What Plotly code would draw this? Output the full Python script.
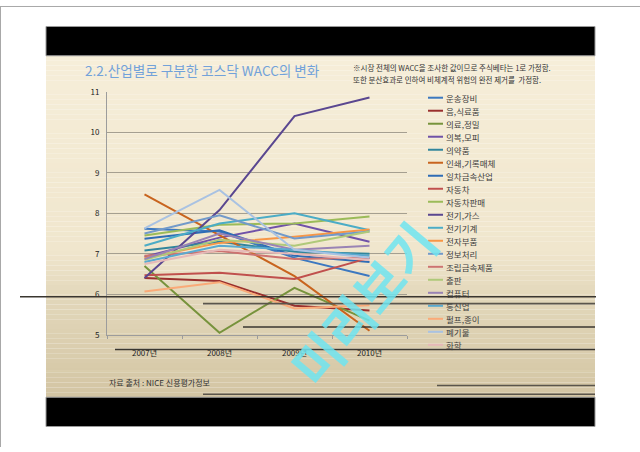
import plotly.graph_objects as go

W, H = 640, 452
years = ["2007년", "2008년", "2009년", "2010년"]
y_ticks = [5, 6, 7, 8, 9, 10, 11]

names = ["운송장비", "음,식료품", "의료,정밀", "의복,모피", "의약품", "인쇄,기록매체",
         "일차금속산업", "자동차", "자동차판매", "전기,가스", "전기기계", "전자부품",
         "정보처리", "조립금속제품", "출판", "컴퓨터", "통신업", "펄프,종이", "폐기물", "화학"]

v_운송장비 = [7.62, 7.55, 6.90, 6.45]
v_음식료품 = [6.40, 6.33, 5.72, 5.60]
v_의료정밀 = [6.70, 5.05, 6.16, 5.35]
v_의복모피 = [6.93, 7.40, 7.75, 7.30]
v_의약품 = [7.08, 7.30, 7.05, 7.00]
v_인쇄 = [8.47, 7.45, 6.45, 5.10]
v_일차금속 = [7.37, 7.58, 6.95, 6.80]
v_자동차 = [6.47, 6.53, 6.38, 6.90]
v_자동차판매 = [7.45, 7.72, 7.75, 7.92]
v_전기가스 = [6.40, 8.08, 10.40, 10.86]
v_전기기계 = [7.20, 7.75, 8.00, 7.58]
v_전자부품 = [6.90, 7.27, 7.42, 7.60]
v_정보처리 = [7.50, 7.95, 7.38, 7.55]
v_조립금속 = [6.95, 7.07, 6.87, 6.90]
v_출판 = [6.85, 7.35, 7.20, 7.55]
v_컴퓨터 = [6.87, 7.50, 7.10, 7.20]
v_통신업 = [6.80, 7.20, 7.10, 6.95]
v_펄프종이 = [6.07, 6.30, 5.65, 5.73]
v_폐기물 = [7.63, 8.58, 7.10, 6.90]
v_화학 = [6.75, 7.10, 7.00, 6.85]

values = [v_운송장비, v_음식료품, v_의료정밀, v_의복모피, v_의약품, v_인쇄, v_일차금속,
          v_자동차, v_자동차판매, v_전기가스, v_전기기계, v_전자부품, v_정보처리, v_조립금속,
          v_출판, v_컴퓨터, v_통신업, v_펄프종이, v_폐기물, v_화학]

colors = ["#3C78C0", "#9A302E", "#77933C", "#7052A8", "#31859C", "#C8641E",
          "#2E6CB5", "#C0504D", "#9BBB59", "#5A4790", "#4BACC6", "#F79646",
          "#729ACA", "#CD7371", "#AFC97A", "#9983B5", "#5AAAD0", "#FAAA78",
          "#A9C2E2", "#E6B9B8"]

FONT = "Noto Sans CJK KR"

def px(x):
    return x / W

def py(y):
    return 1 - y / H

fig = go.Figure()
for n, v, c in zip(names, values, colors):
    fig.add_trace(go.Scatter(x=years, y=v, mode="lines", name=n,
                             line=dict(color=c, width=2), showlegend=False))

shapes = []
# outer grey frame
shapes.append(dict(type="line", xref="paper", yref="paper", x0=0, x1=1, y0=py(0.5), y1=py(0.5),
                   line=dict(color="#A8A8A8", width=1), layer="below"))
shapes.append(dict(type="line", xref="paper", yref="paper", x0=px(0.5), x1=px(0.5), y0=0, y1=1,
                   line=dict(color="#A8A8A8", width=1), layer="below"))

# slide gradient background
def lerp(c1, c2, t):
    return tuple(int(round(a + (b - a) * t)) for a, b in zip(c1, c2))

stops = [(51, (246, 238, 217)), (250, (240, 230, 205)), (300, (226, 215, 186)), (401, (211, 197, 163))]
y = 51
step = 5
while y < 401:
    yc = y + step / 2
    for (ya, ca), (yb, cb) in zip(stops[:-1], stops[1:]):
        if ya <= yc <= yb:
            col = lerp(ca, cb, (yc - ya) / (yb - ya))
            break
    shapes.append(dict(type="rect", xref="paper", yref="paper", x0=px(46), x1=px(595),
                       y0=py(min(y + step, 401)), y1=py(y), line=dict(width=0),
                       fillcolor="rgb(%d,%d,%d)" % col, layer="below"))
    y += step

# black bands
shapes.append(dict(type="rect", xref="paper", yref="paper", x0=px(46), x1=px(595), y0=py(51), y1=py(21),
                   fillcolor="#000000", line=dict(color="#9A9A9A", width=1), layer="below"))
shapes.append(dict(type="rect", xref="paper", yref="paper", x0=px(46), x1=px(595), y0=py(431), y1=py(401),
                   fillcolor="#000000", line=dict(color="#9A9A9A", width=1), layer="below"))
shapes.append(dict(type="line", xref="paper", yref="paper", x0=px(46), x1=px(595), y0=py(374), y1=py(374),
                   line=dict(color="#DCD0B0", width=1), layer="below"))

# overlay artefact lines
for (y0, xa, xb, col, w) in [(298, 20, 596, "#3A3630", 1.6), (305, 203, 595, "#5A554C", 1.6),
                              (329, 243, 595, "#3A3630", 1.6), (352, 115, 595, "#3A3630", 1.4),
                              (389, 437, 595, "#5A554C", 1.6), (398, 203, 595, "#5A554C", 1.6)]:
    shapes.append(dict(type="line", xref="paper", yref="paper", x0=px(xa), x1=px(xb),
                       y0=py(y0), y1=py(y0), line=dict(color=col, width=w), layer="above"))

annotations = []
# manual legend
for i, (n, c) in enumerate(zip(names, colors)):
    yy = 94 + i * 13.33
    shapes.append(dict(type="line", xref="paper", yref="paper", x0=px(428), x1=px(443),
                       y0=py(yy), y1=py(yy), line=dict(color=c, width=2), layer="between"))
    annotations.append(dict(x=px(444), y=py(yy), xref="paper", yref="paper", text=n, showarrow=False,
                            xanchor="left", yanchor="middle", font=dict(family=FONT, size=8.5, color="#404040")))

annotations.append(dict(x=px(83), y=py(66), xref="paper", yref="paper",
                        text="2.2.산업별로 구분한 코스닥 WACC의 변화", showarrow=False,
                        xanchor="left", yanchor="middle", font=dict(family=FONT, size=13.6, color="#72A2DA")))
annotations.append(dict(x=px(351), y=py(63), xref="paper", yref="paper",
                        text="※시장 전체의 WACC을 조사한 값이므로 주식베타는 1로 가정함.", showarrow=False,
                        xanchor="left", yanchor="middle", font=dict(family=FONT, size=7.5, color="#333333")))
annotations.append(dict(x=px(351), y=py(75), xref="paper", yref="paper",
                        text="또한 분산효과로 인하여 비체계적 위험의 완전 제거를  가정함.", showarrow=False,
                        xanchor="left", yanchor="middle", font=dict(family=FONT, size=7.5, color="#333333")))
annotations.append(dict(x=px(107), y=py(386), xref="paper", yref="paper",
                        text="자료 출처 : NICE 신용평가정보", showarrow=False,
                        xanchor="left", yanchor="middle", font=dict(family=FONT, size=8, color="#333333")))
# watermark
annotations.append(dict(x=px(362), y=py(305), xref="paper", yref="paper", text="<b>미리보기</b>",
                        showarrow=False, textangle=-50, xanchor="center", yanchor="middle",
                        font=dict(family=FONT, size=52, color="rgba(110,228,240,0.85)")))

fig.update_layout(
    width=W, height=H,
    margin=dict(l=0, r=0, t=0, b=0),
    paper_bgcolor="#FFFFFF",
    plot_bgcolor="rgba(0,0,0,0)",
    shapes=shapes,
    annotations=annotations,
    font=dict(family=FONT),
    xaxis=dict(domain=[px(107), px(407)], range=[-0.5, 3.5], type="category",
               showline=True, linecolor="#9C9C9C", linewidth=1, showgrid=False,
               ticks="outside", tickson="boundaries", ticklen=3, tickcolor="#9C9C9C",
               tickfont=dict(family=FONT, size=8, color="#222222"), ticklabelstandoff=11,
               anchor="y"),
    yaxis=dict(domain=[py(337), py(88)], range=[5, 11], tickvals=y_ticks,
               showline=True, linecolor="#9C9C9C", linewidth=1,
               showgrid=True, gridcolor="#A59F90", gridwidth=1, zeroline=False,
               ticks="", tickfont=dict(family=FONT, size=8, color="#222222"), ticklabelstandoff=5,
               anchor="x"),
)

fig.write_html("out.html")
